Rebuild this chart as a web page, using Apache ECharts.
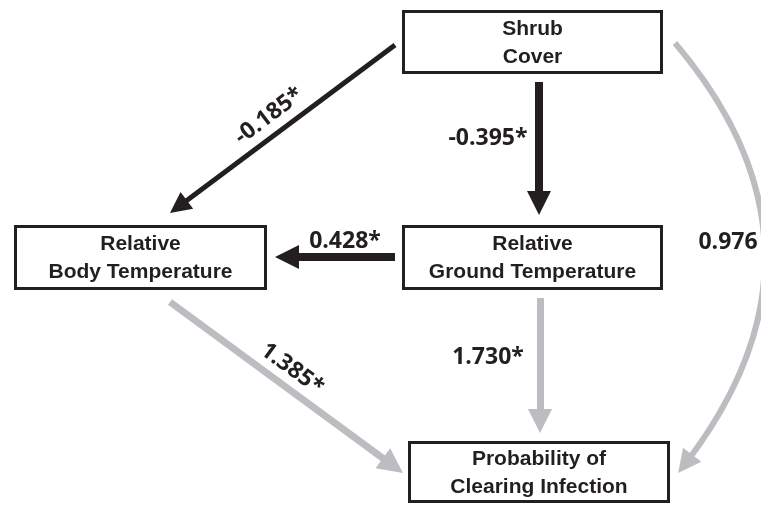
<!DOCTYPE html>
<html>
<head>
<meta charset="utf-8">
<script src="https://cdn.jsdelivr.net/npm/echarts@6/dist/echarts.min.js"></script>
<style>
html, body { margin: 0; padding: 0; background: #fff; }
#chart { width: 761px; height: 505px; }
</style>
</head>
<body>
<div id="chart"></div>
<script>
// path model: nodes and standardized coefficients
const nodeNames = ['Shrub\nCover', 'Relative\nBody Temperature', 'Relative\nGround Temperature', 'Probability of\nClearing Infection'];
const pathFrom = [0, 0, 2, 2, 1, 0];
const pathTo = [1, 2, 1, 3, 3, 3];
const pathCoef = ['-0.185', '-0.395', '0.428', '1.730', '1.385', '0.976'];
const pathSig = [true, true, true, true, true, false];

// layout, in pixels (x1, y1, x2, y2 of each box)
const boxLayout = [
  [402, 10, 663, 74],
  [14, 225, 267, 290],
  [402, 225, 663, 290],
  [408, 441, 670, 503]
];
// arrows: start, tip, curveness, width, head size
const arrowLayout = [
  { s: [395, 45], t: [170, 213], c: 0, w: 5, head: 21 },
  { s: [539, 82], t: [539, 215], c: 0, w: 8, head: 24 },
  { s: [395, 257], t: [275, 257], c: 0, w: 8, head: 24 },
  { s: [540, 298], t: [540, 433], c: 0, w: 7, head: 24 },
  { s: [170, 302], t: [403, 473], c: 0, w: 7, head: 25 },
  { s: [675, 43], t: [678, 473], c: 0.403, w: 6, head: 23 }
];
// label centre and rotation (degrees, counter-clockwise)
const labelLayout = [
  [269, 116, 37],
  [488, 138, 0],
  [345, 241, 0],
  [488, 357, 0],
  [292, 369, -36],
  [728, 242, 0]
];

const BLACK = '#231f20';
const GRAY = '#bcbdc0';

// pull the line end back so the triangle head's tip sits on the tip point
function arrowEnd(s, t, c, head) {
  const cx = (s[0] + t[0]) / 2 - (s[1] - t[1]) * c;
  const cy = (s[1] + t[1]) / 2 - (t[0] - s[0]) * c;
  const dx = t[0] - cx, dy = t[1] - cy;
  const len = Math.hypot(dx, dy);
  return [t[0] - dx / len * head / 2, t[1] - dy / len * head / 2];
}

const lineData = pathFrom.map((f, i) => {
  const a = arrowLayout[i];
  const color = pathTo[i] === 3 ? GRAY : BLACK;
  return {
    coords: [a.s, arrowEnd(a.s, a.t, a.c, a.head)],
    symbolSize: [4, a.head],
    lineStyle: { color: color, width: a.w, curveness: a.c, opacity: 1 }
  };
});

const chart = echarts.init(document.getElementById('chart'));
chart.setOption({
  backgroundColor: '#fff',
  animation: false,
  grid: { left: 0, right: 0, top: 0, bottom: 0 },
  xAxis: { type: 'value', min: 0, max: 761, show: false },
  yAxis: { type: 'value', min: 0, max: 505, inverse: true, show: false },
  series: [
    {
      type: 'lines',
      coordinateSystem: 'cartesian2d',
      symbol: ['none', 'triangle'],
      data: lineData,
      silent: true,
      z: 2
    },
    {
      type: 'custom',
      data: boxLayout,
      encode: { x: [0, 2], y: [1, 3] },
      silent: true,
      z: 3,
      renderItem: function (params, api) {
        const p1 = api.coord([api.value(0), api.value(1)]);
        const p2 = api.coord([api.value(2), api.value(3)]);
        return {
          type: 'group',
          children: [
            {
              type: 'rect',
              shape: { x: p1[0] + 1.5, y: p1[1] + 1.5, width: p2[0] - p1[0] - 3, height: p2[1] - p1[1] - 3 },
              style: { fill: '#fff', stroke: BLACK, lineWidth: 3 }
            },
            {
              type: 'text',
              x: (p1[0] + p2[0]) / 2,
              y: (p1[1] + p2[1]) / 2 + 1,
              style: {
                text: nodeNames[params.dataIndex],
                align: 'center',
                verticalAlign: 'middle',
                fontFamily: 'Liberation Sans',
                fontWeight: 'bold',
                fontSize: 21,
                lineHeight: 28,
                fill: BLACK
              }
            }
          ]
        };
      }
    },
    {
      // path coefficients
      type: 'custom',
      data: labelLayout,
      encode: { x: 0, y: 1 },
      silent: true,
      z: 4,
      renderItem: function (params, api) {
        const i = params.dataIndex;
        const p = api.coord([api.value(0), api.value(1)]);
        return {
          type: 'text',
          x: p[0],
          y: p[1],
          rotation: api.value(2) * Math.PI / 180,
          style: {
            text: pathCoef[i] + (pathSig[i] ? '*' : ''),
            align: 'center',
            verticalAlign: 'middle',
            fontFamily: 'Open Sans',
            fontWeight: 'bold',
            fontSize: 23,
            fill: BLACK
          }
        };
      }
    }
  ]
});
</script>
</body>
</html>
